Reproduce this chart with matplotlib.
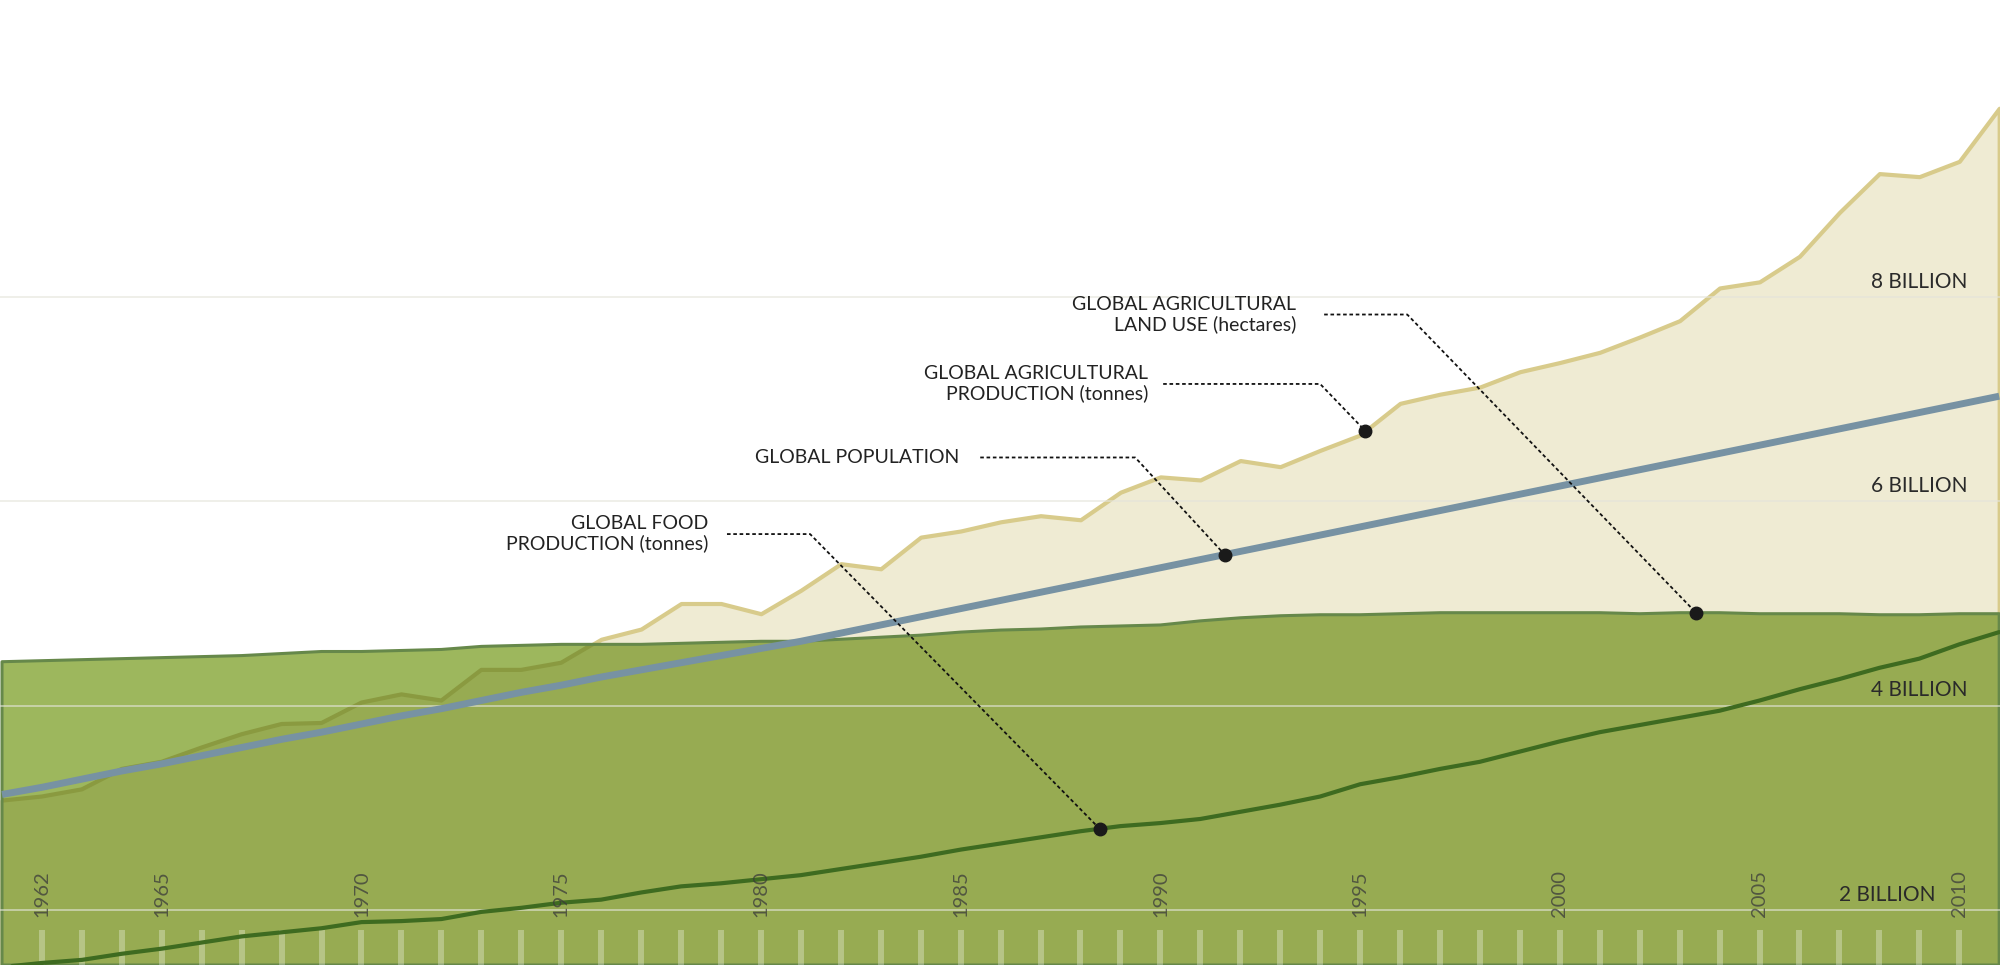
import numpy as np
import matplotlib
matplotlib.use('Agg')
from matplotlib import pyplot as plt

plt.rcParams['font.family'] = ['Lato', 'DejaVu Sans']

# years on the x axis
years = list(range(1961, 2012))

# global agricultural production (tonnes), billions
production = [3.07, 3.11, 3.18, 3.38, 3.45, 3.59, 3.72, 3.82, 3.83, 4.03,
              4.11, 4.05, 4.35, 4.35, 4.42, 4.65, 4.75, 5.00, 5.00, 4.90,
              5.13, 5.39, 5.34, 5.65, 5.71, 5.80, 5.86, 5.82, 6.09, 6.24,
              6.21, 6.40, 6.34, 6.50, 6.65, 6.96, 7.05, 7.12, 7.27, 7.36,
              7.46, 7.61, 7.77, 8.09, 8.15, 8.40, 8.83, 9.21, 9.18, 9.33,
              9.85]

# global agricultural land use (hectares), billions
land_use = [4.43, 4.44, 4.45, 4.46, 4.47, 4.48, 4.49, 4.51, 4.53, 4.53,
            4.54, 4.55, 4.58, 4.59, 4.60, 4.60, 4.60, 4.61, 4.62, 4.63,
            4.63, 4.65, 4.67, 4.69, 4.72, 4.74, 4.75, 4.77, 4.78, 4.79,
            4.83, 4.86, 4.88, 4.89, 4.89, 4.90, 4.91, 4.91, 4.91, 4.91,
            4.91, 4.90, 4.91, 4.91, 4.90, 4.90, 4.90, 4.89, 4.89, 4.90,
            4.90]

# global population, billions
population = [3.13, 3.20, 3.28, 3.36, 3.43, 3.51, 3.59, 3.67, 3.74, 3.82,
              3.90, 3.97, 4.05, 4.13, 4.20, 4.28, 4.35, 4.42, 4.49, 4.56,
              4.63, 4.71, 4.79, 4.87, 4.95, 5.03, 5.11, 5.19, 5.27, 5.35,
              5.43, 5.51, 5.59, 5.67, 5.75, 5.83, 5.91, 5.99, 6.07, 6.15,
              6.23, 6.31, 6.39, 6.47, 6.55, 6.63, 6.71, 6.79, 6.87, 6.95,
              7.03]

# global food production (tonnes), billions
food = [1.44, 1.48, 1.51, 1.57, 1.62, 1.68, 1.74, 1.78, 1.82, 1.88,
        1.89, 1.91, 1.98, 2.02, 2.07, 2.10, 2.17, 2.23, 2.26, 2.30,
        2.34, 2.40, 2.46, 2.52, 2.59, 2.65, 2.71, 2.77, 2.82, 2.85,
        2.89, 2.96, 3.03, 3.11, 3.23, 3.30, 3.38, 3.45, 3.55, 3.65,
        3.74, 3.81, 3.88, 3.95, 4.05, 4.16, 4.26, 4.37, 4.46, 4.60,
        4.72]

grid_values = [2, 4, 6, 8]
grid_labels = ['2 BILLION', '4 BILLION', '6 BILLION', '8 BILLION']
label_years = [1962, 1965, 1970, 1975, 1980, 1985, 1990, 1995, 2000, 2005, 2010]
tick_years = list(range(1962, 2011))

# colours
BEIGE = '#efebd3'
YELLOW = '#d8cb8b'
GREEN = '#9db75d'
OLIVE = '#97ab52'         # green "multiplied" over beige
OLIVE_LINE = '#8a9a40'    # production line seen through the green
EDGE = '#66884a'
FOOD = '#3e6b20'
POP = '#7792a3'

fig = plt.figure(figsize=(20, 9.65), dpi=100)
ax = fig.add_axes([0, 0, 1, 1])
ymin, ymax = 1.46, 10.91
ax.set_xlim(1960.95, 2011.02)
ax.set_ylim(ymin, ymax)

# production area (beige) at the back
ax.fill_between(years, ymin, production, facecolor=BEIGE, edgecolor=YELLOW,
                lw=3, zorder=1, joinstyle='round')

# land use area (green)
land_fill = ax.fill_between(years, ymin, land_use, color=GREEN, lw=0, zorder=2)
land_path = land_fill.get_paths()[0]

# where the green sits on top of the beige it gets darker
over = ax.fill_between(years, ymin, production, color=OLIVE, lw=0, zorder=3)
over.set_clip_path(land_path, ax.transData)
prod_under, = ax.plot(years, production, color=OLIVE_LINE, lw=3, zorder=3.2,
                      solid_joinstyle='round')
prod_under.set_clip_path(land_path, ax.transData)

ax.fill_between(years, ymin, land_use, facecolor='none', edgecolor=EDGE,
                lw=2.2, zorder=4)

# grid lines
for v in grid_values:
    ax.axhline(v, color='#e4e4da', alpha=0.6, lw=1.4, zorder=4.5)

# food production + population lines
ax.plot(years, food, color=FOOD, lw=3, zorder=5, solid_capstyle='round',
        solid_joinstyle='round')
ax.plot(years, population, color=POP, lw=5, zorder=6, solid_capstyle='butt')

# yearly tick bars along the bottom
ax.set_xticks(tick_years)
ax.set_yticks([])
ax.tick_params(axis='x', direction='in', length=25, width=4.3,
               color=(1, 1, 1, 0.3), labelbottom=False)
ax.xaxis.set_zorder(4.6)
for s in ax.spines.values():
    s.set_visible(False)

for yr in label_years:
    ax.text(yr, 0.074, str(yr), transform=ax.get_xaxis_transform(),
            rotation=90, ha='center', va='center', fontsize=14.5,
            color='#3a3a3a', alpha=0.75, zorder=7)

# the 2 billion label sits a bit further left so it clears the 2010 label
label_x = [2009.4, 2010.2, 2010.2, 2010.2]
for v, lab, lx in zip(grid_values, grid_labels, label_x):
    ax.text(lx, v + 0.15, lab, ha='right', va='center', fontsize=15,
            color='#2a2a2a', zorder=7)

# annotations: text, leader line (horizontal then diagonal) and a dot
annotations = [
    ('GLOBAL AGRICULTURAL\nLAND USE (hectares)', 1993.40, 7.83, 1994.10, 1996.18, 2003.41, land_use),
    ('GLOBAL AGRICULTURAL\nPRODUCTION (tonnes)', 1989.69, 7.15, 1990.07, 1994.00, 1995.13, production),
    ('GLOBAL POPULATION', 1984.96, 6.43, 1985.49, 1989.37, 1991.61, population),
    ('GLOBAL FOOD\nPRODUCTION (tonnes)', 1978.68, 5.68, 1979.15, 1981.23, 1988.48, food),
]
for text, tx, ty, lx, cx, dx, series in annotations:
    ax.text(tx, ty, text, ha='right', va='center', multialignment='right',
            fontsize=14, color='#222222', linespacing=1.15, zorder=9)
    dy = np.interp(dx, years, series)
    ax.plot([lx, cx, dx], [ty, ty, dy], color='#111111', lw=1.3,
            linestyle=(0, (2.0, 1.5)), zorder=8)
    ax.plot(dx, dy, 'o', color='#1a1a1a', markersize=9, zorder=10)

fig.savefig('out.png', dpi=100)
